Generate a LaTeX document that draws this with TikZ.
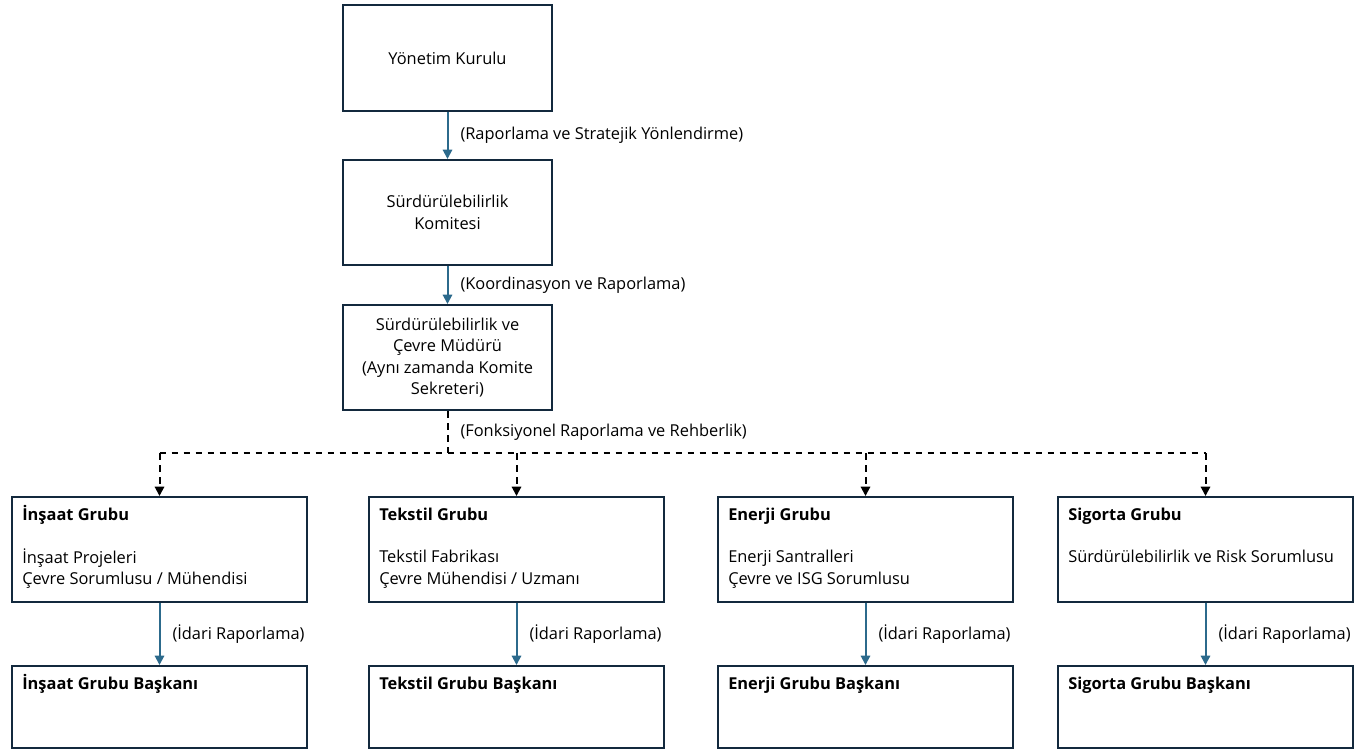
\documentclass[tikz,border=0pt]{standalone}
\usepackage{fontspec}
\setmainfont{Open Sans}
\usetikzlibrary{arrows.meta}
\definecolor{boxline}{HTML}{13293D}
\definecolor{flowblue}{HTML}{2C6A8C}
\begin{document}
\begin{tikzpicture}[
    x=0.75pt, y=-0.75pt,
    font=\fontsize{12.3}{16}\selectfont,
    topbox/.style={rectangle, draw=boxline, line width=1.5pt, minimum width=156.75pt, minimum height=78.75pt, align=center, inner sep=2pt},
    grpbox/.style={rectangle, draw=boxline, line width=1.5pt, minimum width=221.25pt, minimum height=78.75pt},
    headbox/.style={grpbox, minimum height=61.5pt},
    boxtxt/.style={anchor=north west, align=left, inner sep=0pt},
    report/.style={draw=flowblue, line width=1.5pt, -{Triangle[length=7pt, width=7pt]}},
    func/.style={draw=black, line width=1.5pt, dash pattern=on 5pt off 4pt},
    funcarrow/.style={func, -{Triangle[length=7pt, width=7pt]}},
    lbl/.style={anchor=west, inner sep=0pt, xshift=9pt}
]
  \useasboundingbox (0,0) rectangle (1355,749);
  % top of the chain
  \node[topbox] (board) at (447.5, 58) {Yönetim Kurulu};
  \node[topbox] (cmte) at (447.5, 212.5) {Sürdürülebilirlik\\Komitesi};
  \node[topbox] (mgr) at (447.5, 357.5) {Sürdürülebilirlik ve\\Çevre Müdürü\\(Aynı zamanda Komite\\Sekreteri)};
  \draw[report] (board) -- node[lbl, midway] (l1) {(Raporlama ve Stratejik Yönlendirme)} (cmte);
  \draw[report] (cmte) -- node[lbl, midway] (l2) {(Koordinasyon ve Raporlama)} (mgr);
  % groups
  \foreach \i/\x/\name/\body in {1/159.5/{İnşaat}/{İnşaat Projeleri\\Çevre Sorumlusu / Mühendisi},
                                 2/516.5/{Tekstil}/{Tekstil Fabrikası\\Çevre Mühendisi / Uzmanı},
                                 3/865.5/{Enerji}/{Enerji Santralleri\\Çevre ve ISG Sorumlusu},
                                 4/1205.5/{Sigorta}/{Sürdürülebilirlik ve Risk Sorumlusu}} {
    \node[grpbox] (g\i) at (\x, 549.5) {};
    \node[boxtxt] (gt\i) at ([shift={(11,9)}]g\i.north west) {\strut\textbf{\name\ Grubu}\\[16pt]\body};
    \node[headbox] (h\i) at (\x, 707) {};
    \node[boxtxt] (ht\i) at ([shift={(11,9)}]h\i.north west) {\strut\textbf{\name\ Grubu Başkanı}};
    \draw[report] (g\i) -- node[lbl, midway] (r\i) {(İdari Raporlama)} (h\i);
  }
  % functional lines
  \coordinate (bus) at (447.5, 453);
  \draw[func] (mgr.south) -- node[lbl, midway] (l3) {(Fonksiyonel Raporlama ve Rehberlik)} (bus);
  \draw[func] (bus -| g1.north) -- (bus -| g4.north);
  \foreach \i in {1,...,4} {
    \draw[funcarrow] (bus -| g\i.north) -- (g\i.north);
  }
\end{tikzpicture}
\end{document}
